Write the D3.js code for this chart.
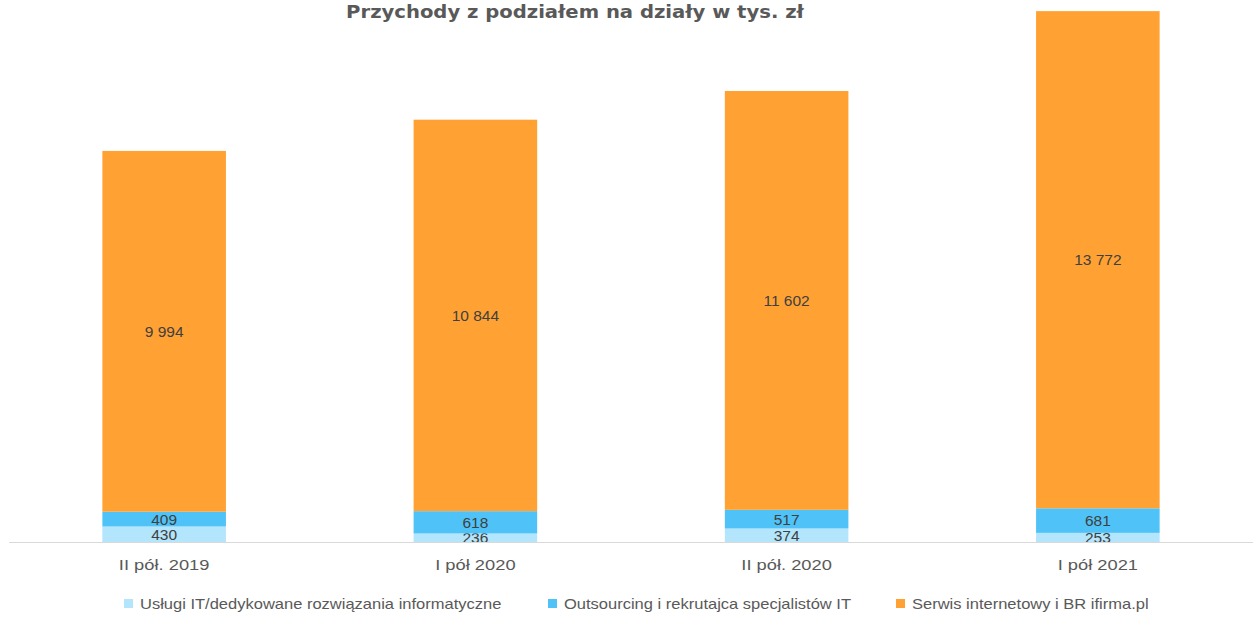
<!DOCTYPE html>
<html>
<head>
<meta charset="utf-8">
<script src="https://cdn.jsdelivr.net/npm/d3@7"></script>
<style>
  body { margin: 0; background: #fff; }
  svg text { font-family: "Liberation Sans", sans-serif; }
</style>
</head>
<body>
<script>
var w = 1256;
var h = 619;

// data
var categories = ["II pół. 2019", "I pół 2020", "II pół. 2020", "I pół 2021"];
var seriesNames = ["Usługi IT/dedykowane rozwiązania informatyczne",
                   "Outsourcing i rekrutajca specjalistów IT",
                   "Serwis internetowy i BR ifirma.pl"];
var uslugi = [430, 236, 374, 253];
var outsourcing = [409, 618, 517, 681];
var serwis = [9994, 10844, 11602, 13772];
var colors = ["#b3e5fc", "#4fc3f7", "#ffa233"];

var rows = categories.map(function(c, i) {
    return { cat: c, s0: uslugi[i], s1: outsourcing[i], s2: serwis[i] };
});

var svg = d3.select("body")
        .append("svg")
        .attr("width", w)
        .attr("height", h);

var x = d3.scaleBand()
        .domain(categories)
        .range([9, 1253])
        .paddingInner(0.603)
        .paddingOuter(0.3);

var y = d3.scaleLinear()
        .domain([0, 15000])
        .range([542, 0.5]);

var stack = d3.stack().keys(["s0", "s1", "s2"]);
var series = stack(rows);

// stretch text horizontally (the original is wider than the fonts we have)
function stretch(sel, factor) {
    sel.each(function() {
        var len = this.getComputedTextLength();
        d3.select(this)
            .attr("textLength", len * factor)
            .attr("lengthAdjust", "spacingAndGlyphs");
    });
}

// title
svg.append("text")
    .attr("x", 575)
    .attr("y", 18)
    .attr("text-anchor", "middle")
    .style("font-family", "'DejaVu Sans', Verdana, sans-serif")
    .style("font-weight", "bold")
    .style("font-size", "17.5px")
    .style("fill", "#595959")
    .text("Przychody z podziałem na działy w tys. zł")
    .call(stretch, 1.12);

// bars
var groups = svg.selectAll("g.series")
    .data(series)
    .enter()
    .append("g")
    .attr("class", "series")
    .attr("fill", function(d, i) { return colors[i]; });

groups.selectAll("rect")
    .data(function(d) { return d; })
    .enter()
    .append("rect")
    .attr("x", function(d) { return x(d.data.cat); })
    .attr("y", function(d) { return y(d[1]); })
    .attr("width", x.bandwidth())
    .attr("height", function(d) { return y(d[0]) - y(d[1]); });

// value labels
var fmt = function(v) {
    return d3.format(",")(v).replace(/,/g, "\u00a0");
};
groups.selectAll("text")
    .data(function(d) { return d; })
    .enter()
    .append("text")
    .attr("x", function(d) { return x(d.data.cat) + x.bandwidth() / 2; })
    .attr("y", function(d) { return (y(d[0]) + y(d[1])) / 2; })
    .attr("dy", "0.36em")
    .attr("text-anchor", "middle")
    .style("font-size", "15.5px")
    .style("fill", "#404040")
    .text(function(d) { return fmt(d[1] - d[0]); });

// x axis
var xAxis = svg.append("g")
    .attr("transform", "translate(0,542)")
    .call(d3.axisBottom(x).tickSize(0).tickPadding(17));
xAxis.select(".domain").attr("stroke", "#d9d9d9").attr("d", "M9,0.5H1253");
xAxis.selectAll("text")
    .style("font-family", "'Liberation Sans', sans-serif")
    .style("font-size", "15px")
    .style("fill", "#595959")
    .call(stretch, 1.22);

// legend
var legendX = [124, 548, 896];
var legend = svg.selectAll("g.legend")
    .data(seriesNames)
    .enter()
    .append("g")
    .attr("class", "legend")
    .attr("transform", function(d, i) { return "translate(" + legendX[i] + ",599)"; });

legend.append("rect")
    .attr("width", 9)
    .attr("height", 9)
    .attr("fill", function(d, i) { return colors[i]; });

legend.append("text")
    .attr("x", 16)
    .attr("y", 5)
    .attr("dy", "0.35em")
    .style("font-size", "15px")
    .style("fill", "#595959")
    .text(function(d) { return d; })
    .call(stretch, 1.1);
</script>
</body>
</html>
